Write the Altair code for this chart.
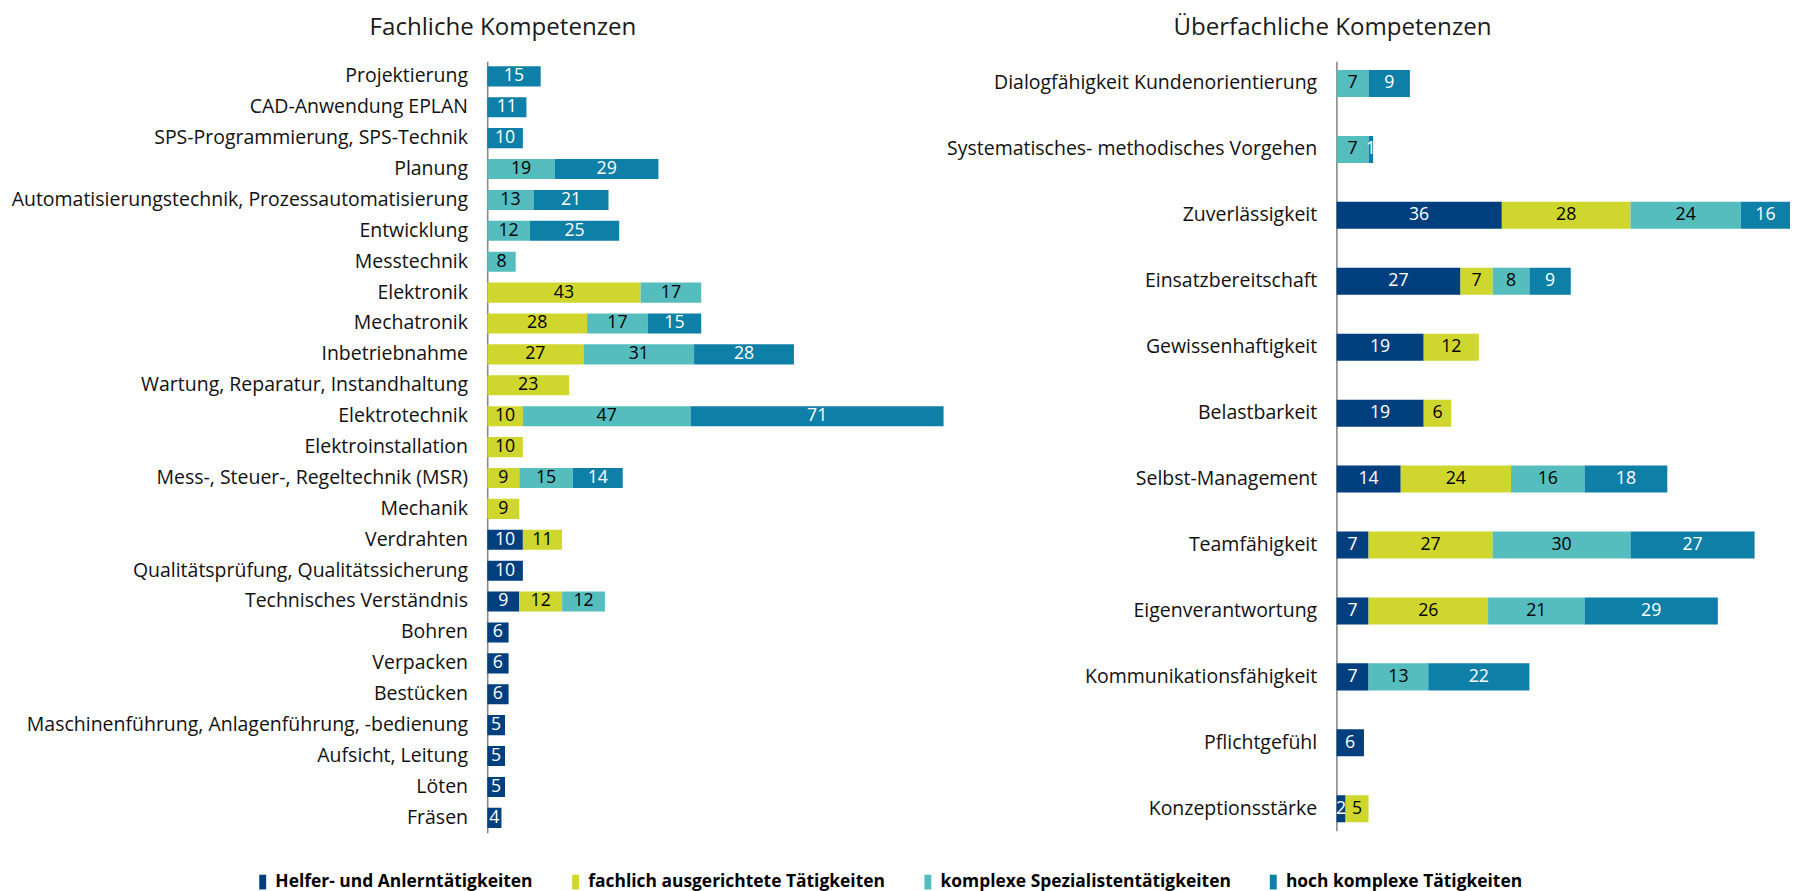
import altair as alt
import pandas as pd

# ---------------- data ----------------
series = ["Helfer- und Anlerntätigkeiten", "fachlich ausgerichtete Tätigkeiten",
          "komplexe Spezialistentätigkeiten", "hoch komplexe Tätigkeiten"]
series_colors = ["#003f7e", "#cfd72e", "#56bdbf", "#0e7fa6"]
label_colors = ["white", "black", "black", "white"]

fach_title = "Fachliche Kompetenzen"
fach_cats = ["Projektierung", "CAD-Anwendung EPLAN", "SPS-Programmierung, SPS-Technik", "Planung",
             "Automatisierungstechnik, Prozessautomatisierung", "Entwicklung", "Messtechnik",
             "Elektronik", "Mechatronik", "Inbetriebnahme", "Wartung, Reparatur, Instandhaltung",
             "Elektrotechnik", "Elektroinstallation", "Mess-, Steuer-, Regeltechnik (MSR)", "Mechanik",
             "Verdrahten", "Qualitätsprüfung, Qualitätssicherung", "Technisches Verständnis", "Bohren",
             "Verpacken", "Bestücken", "Maschinenführung, Anlagenführung, -bedienung",
             "Aufsicht, Leitung", "Löten", "Fräsen"]
fach_helfer = [0, 0, 0, 0, 0, 0, 0, 0, 0, 0, 0, 0, 0, 0, 0, 10, 10, 9, 6, 6, 6, 5, 5, 5, 4]
fach_fachlich = [0, 0, 0, 0, 0, 0, 0, 43, 28, 27, 23, 10, 10, 9, 9, 11, 0, 12, 0, 0, 0, 0, 0, 0, 0]
fach_komplex = [0, 0, 0, 19, 13, 12, 8, 17, 17, 31, 0, 47, 0, 15, 0, 0, 0, 12, 0, 0, 0, 0, 0, 0, 0]
fach_hoch = [15, 11, 10, 29, 21, 25, 0, 0, 15, 28, 0, 71, 0, 14, 0, 0, 0, 0, 0, 0, 0, 0, 0, 0, 0]

ueber_title = "Überfachliche Kompetenzen"
ueber_cats = ["Dialogfähigkeit Kundenorientierung", "Systematisches- methodisches Vorgehen",
              "Zuverlässigkeit", "Einsatzbereitschaft", "Gewissenhaftigkeit", "Belastbarkeit",
              "Selbst-Management", "Teamfähigkeit", "Eigenverantwortung", "Kommunikationsfähigkeit",
              "Pflichtgefühl", "Konzeptionsstärke"]
ueber_helfer = [0, 0, 36, 27, 19, 19, 14, 7, 7, 7, 6, 2]
ueber_fachlich = [0, 0, 28, 7, 12, 6, 24, 27, 26, 0, 0, 5]
ueber_komplex = [7, 7, 24, 8, 0, 0, 16, 30, 21, 13, 0, 0]
ueber_hoch = [9, 1, 16, 9, 0, 0, 18, 27, 29, 22, 0, 0]


def long_table(cats, cols):
    rows = []
    for i, cat in enumerate(cats):
        for k, vals in enumerate(cols):
            if vals[i] > 0:
                rows.append({"cat": cat, "series": series[k], "order": k,
                             "value": vals[i], "tcol": label_colors[k]})
    return pd.DataFrame(rows)


fach_df = long_table(fach_cats, [fach_helfer, fach_fachlich, fach_komplex, fach_hoch])
ueber_df = long_table(ueber_cats, [ueber_helfer, ueber_fachlich, ueber_komplex, ueber_hoch])

LABEL_FONT = "Open Sans"

legend = alt.Legend(
    title=None, orient="none", direction="horizontal", columns=4,
    legendX=-237, legendY=825,
    labelFont=LABEL_FONT, labelFontWeight="bold", labelFontSize=17.7, labelColor="#000",
    labelLimit=0, columnPadding=34, labelOffset=4,
    symbolType="M-0.47,-1L0.47,-1L0.47,1L-0.47,1Z", symbolSize=225, symbolStrokeWidth=0,
)


def panel(df, cats, title, width, height, xmax, pi, po, title_x, show_legend):
    base = alt.Chart(df).transform_stack(
        stack="value", groupby=["cat"], as_=["x0", "x1"], sort=[alt.SortField("order")]
    ).transform_calculate(mid=f"(datum.x0 + min(datum.x1, {xmax})) / 2")

    y_axis = alt.Axis(title=None, labelFont=LABEL_FONT, labelFontSize=19.8, labelColor="#111",
                      labelPadding=20, ticks=False, domainColor="#888", domainWidth=1.6,
                      labelLimit=0, grid=False)
    y = alt.Y("cat:N", sort=cats, scale=alt.Scale(paddingInner=pi, paddingOuter=po), axis=y_axis)
    xscale = alt.Scale(domain=[0, xmax], nice=False, zero=True)

    bars = base.mark_bar(clip=True).encode(
        x=alt.X("x0:Q", scale=xscale, axis=None),
        x2="x1:Q",
        y=y,
        color=alt.Color("series:N", scale=alt.Scale(domain=series, range=series_colors),
                        legend=legend if show_legend else None),
    )
    texts = base.mark_text(font=LABEL_FONT, fontSize=18, clip=True).encode(
        x=alt.X("mid:Q", scale=xscale, axis=None),
        y=alt.Y("cat:N", sort=cats),
        text="value:Q",
        color=alt.condition("datum.tcol == 'white'", alt.value("white"), alt.value("black")),
    )
    head = alt.Chart(pd.DataFrame({"t": [title]})).mark_text(
        font="Open Sans", fontSize=24.5, baseline="alphabetic", align="center", color="#1a1a1a"
    ).encode(text="t:N", x=alt.value(title_x), y=alt.value(-27))
    return alt.layer(bars, texts, head).properties(width=width, height=height)


left = panel(fach_df, fach_cats, fach_title, 464, 784, 128, 0.35, 0.16, 16, True)
right = panel(ueber_df, ueber_cats, ueber_title, 461, 782, 98.7, 0.59, 0.13, -4, False)

chart = alt.hconcat(left, right, spacing=2).resolve_scale(
    x="independent", y="independent", color="shared"
).properties(
    padding={"left": 3, "right": 0, "top": 0, "bottom": 0}, background="white"
).configure_view(stroke=None)

chart.save("out.html", embed_options={"renderer": "svg", "actions": False})
